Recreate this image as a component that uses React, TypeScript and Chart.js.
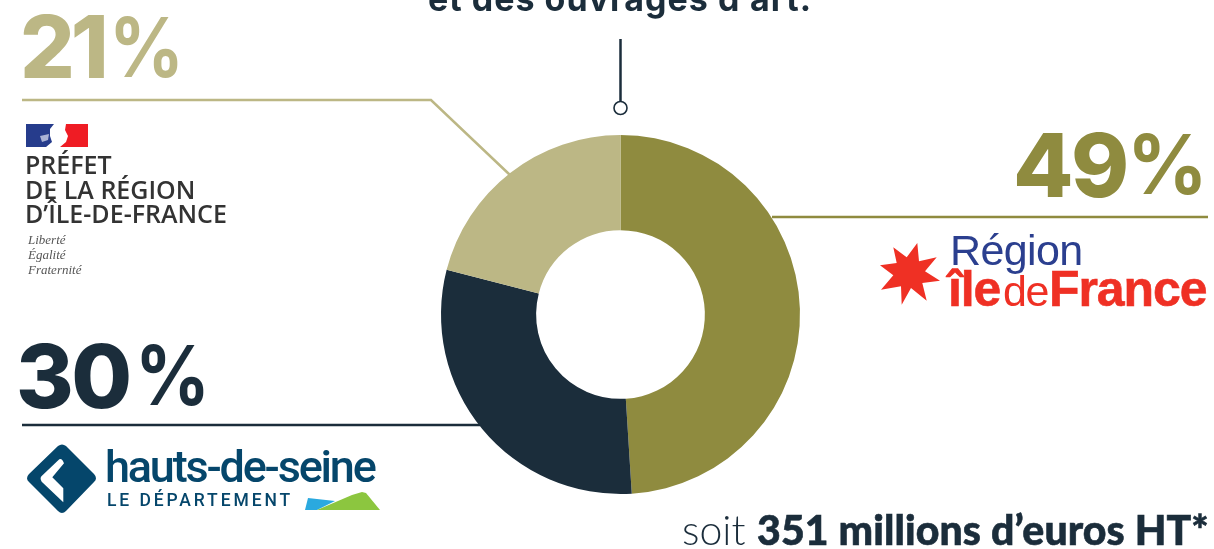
import React, { useEffect, useRef } from "react";
import { Chart, registerables } from "chart.js";

Chart.register(...registerables);

const categories = ["Région Île-de-France", "Hauts-de-Seine", "Préfet de la région d'Île-de-France"];
const shares = [49, 30, 21];
const sliceColors = ["#8f8b3f", "#1b2d3b", "#bcb785"];
const W = 1214;
const H = 549;

const leaderPlugin = {
  id: "leaders",
  beforeDatasetsDraw(chart: any) {
    const c = chart.ctx;
    c.save();
    c.lineWidth = 2.5;
    c.lineJoin = "miter";
    const path = (color: string, pts: number[][]) => {
      c.strokeStyle = color;
      c.beginPath();
      pts.forEach((p, i) => (i ? c.lineTo(p[0], p[1]) : c.moveTo(p[0], p[1])));
      c.stroke();
    };
    path(sliceColors[2], [[22, 100], [431, 100], [510, 175]]);
    path(sliceColors[1], [[22, 425], [480, 425]]);
    path(sliceColors[0], [[772, 217], [1208, 217]]);
    path(sliceColors[1], [[620.5, 39], [620.5, 102]]);
    c.beginPath();
    c.arc(620.5, 108, 6.5, 0, Math.PI * 2);
    c.fillStyle = "#fff";
    c.fill();
    c.lineWidth = 1.6;
    c.strokeStyle = sliceColors[1];
    c.stroke();
    c.restore();
  },
};

const txt = (
  s: string,
  x: number,
  y: number,
  size: number,
  weight: number,
  color: string,
  font: string,
  extra: React.CSSProperties = {},
) => (
  <div
    style={{
      position: "absolute",
      left: x,
      top: y,
      fontSize: size,
      lineHeight: `${size}px`,
      fontWeight: weight,
      color,
      fontFamily: font,
      whiteSpace: "pre",
      ...extra,
    }}
  >
    {s}
  </div>
);

export default function App() {
  const ref = useRef<HTMLCanvasElement>(null);
  useEffect(() => {
    const chart = new Chart(ref.current!, {
      type: "doughnut",
      data: {
        labels: categories,
        datasets: [{ data: shares, backgroundColor: sliceColors, borderWidth: 0 }],
      },
      options: {
        responsive: false,
        animation: false,
        cutout: "47%",
        layout: { padding: { left: 441, right: 414, top: 135, bottom: 55 } },
        plugins: { legend: { display: false }, tooltip: { enabled: false } },
      },
      plugins: [leaderPlugin],
    } as any);
    return () => chart.destroy();
  }, []);

  const inter = "Inter, sans-serif";
  const lato = "Lato, sans-serif";
  const open = "'Open Sans', sans-serif";
  const serif = "'Liberation Serif', serif";
  const sans = "'Liberation Sans', sans-serif";
  const roboto = "Roboto, sans-serif";
  const navy = "#05466b";
  const red = "#ef3024";
  const it: React.CSSProperties = { fontStyle: "italic" };
  const heavy: React.CSSProperties = { WebkitTextStroke: "0.6px currentColor" } as React.CSSProperties;

  return (
    <div style={{ position: "fixed", left: 0, top: 0, width: W, height: H, overflow: "hidden", background: "#fff" }}>
      <canvas ref={ref} width={W} height={H} style={{ position: "absolute", left: 0, top: 0, width: W, height: H }} />

      {txt("et des ouvrages d’art.", 428, -18, 34, 700, sliceColors[1], inter, { letterSpacing: 1 })}

      {txt("21", 20, 4, 86, 800, sliceColors[2], inter, { letterSpacing: -4 })}
      {txt("%", 109, 7, 82, 700, sliceColors[2], inter, { transform: "scaleX(0.9)", transformOrigin: "left" })}

      {txt("49", 1013, 121, 88, 800, sliceColors[0], inter, { letterSpacing: -2.5 })}
      {txt("%", 1127, 124, 82, 700, sliceColors[0], inter, { transform: "scaleX(0.97)", transformOrigin: "left" })}

      {txt("30", 16, 332, 88, 800, sliceColors[1], inter, { letterSpacing: -2.5 })}
      {txt("%", 135, 335, 82, 700, sliceColors[1], inter, { transform: "scaleX(0.9)", transformOrigin: "left" })}

      {txt("soit", 682, 509, 41, 300, sliceColors[1], lato)}
      {txt("351 millions d’euros HT*", 757, 509, 41, 900, sliceColors[1], lato, { ...heavy, letterSpacing: 0.1 })}

      {txt("PRÉFET", 25, 152, 25, 600, "#333", open)}
      {txt("DE LA RÉGION", 25, 177, 25, 600, "#333", open)}
      {txt("D’ÎLE-DE-FRANCE", 25, 201, 25, 600, "#333", open)}
      {txt("Liberté", 28, 233, 13, 400, "#555", serif, it)}
      {txt("Égalité", 28, 248, 13, 400, "#555", serif, it)}
      {txt("Fraternité", 28, 263, 13, 400, "#555", serif, it)}

      {txt("Région", 950, 229, 43, 400, "#2b3f8f", sans, { letterSpacing: -0.6 })}
      {txt("île", 948, 264, 50, 700, red, sans, { ...heavy, letterSpacing: -1.2 })}
      {txt("de", 1003, 270, 43, 400, red, sans, { letterSpacing: -1.5 })}
      {txt("France", 1049, 264, 50, 700, red, sans, { ...heavy, letterSpacing: -1.1 })}

      {txt("hauts-de-seine", 105, 444, 45, 500, navy, roboto, { letterSpacing: -2.2 })}
      {txt("LE DÉPARTEMENT", 107, 492, 17.5, 500, navy, roboto, { letterSpacing: 2.9 })}

      <svg width={W} height={H} style={{ position: "absolute", left: 0, top: 0, pointerEvents: "none" }}>
        <path d="M26 124 L54 124 L50 129 L50 136 L52 142 L46 147 L26 147 Z" fill="#263c8c" />
        <path d="M66 124 L88 124 L88 147 L60 147 L66 142 L68 136 L65 130 Z" fill="#ef1c24" />
        <path d="M40 136 L49 134 L48 140 L42 142 Z" fill="#aab3d6" />

        <polygon
          points="880,265.3 896.7,263 893.3,247.3 906.7,257.3 917.3,243 919,261.3 936.7,257.3 925,271.3 940,280.7 922.3,283 926.7,300.7 911,288 901.7,304.7 901,286.3 881,289.7 893.3,275.3"
          fill={red}
        />

        <path
          d="M58 446 Q62 443 66 446 L94 474 Q98 478.3 94 482 L66 511 Q62 515 58 511 L29 482 Q25 478.3 29 474 Z"
          fill={navy}
        />
        <path
          d="M59.3 459.3 Q62 458 64 463.3 L52.3 477.3 L63.3 488.3 L63.3 502.3 L41.7 481.7 Q39.5 478 41.7 476 Z"
          fill="#fff"
        />
        <path d="M305 510 L308 498 L335 501 L317 510 Z" fill="#2aa9df" />
        <path d="M317 510 L352 495 L362 492 L366 493 L380 510 Z" fill="#8cc63f" />
      </svg>
    </div>
  );
}
